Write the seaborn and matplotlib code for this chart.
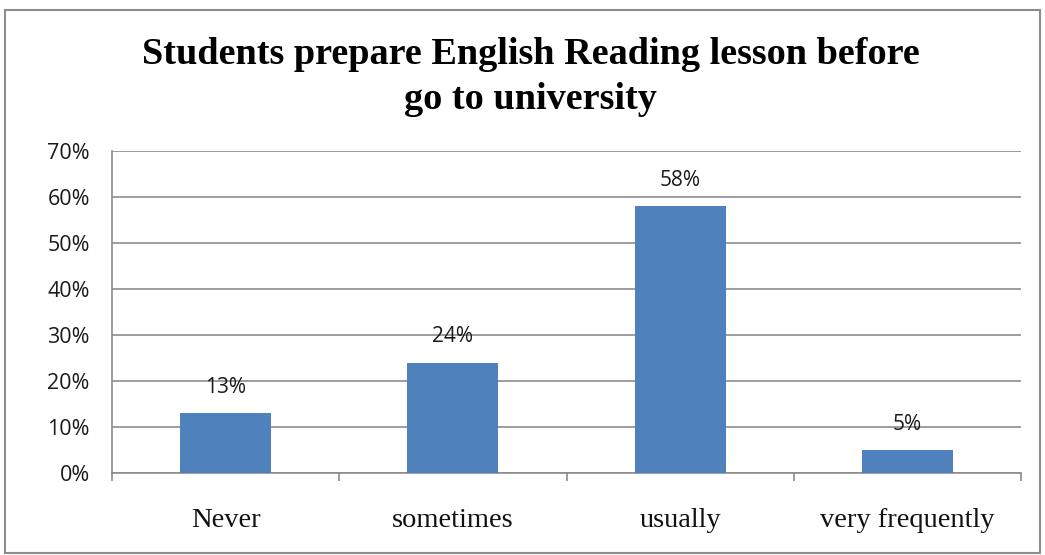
import matplotlib
matplotlib.use("Agg")
import matplotlib.pyplot as plt
from matplotlib.patches import Rectangle
from matplotlib.ticker import FixedLocator, FuncFormatter
import seaborn as sns
import pandas as pd

categories = ["Never", "sometimes", "usually", "very frequently"]
percentages = [13, 24, 58, 5]
y_ticks = [0, 10, 20, 30, 40, 50, 60, 70]

title = "Students prepare English Reading lesson before\ngo to university"

sns.set_theme(style="white")
plt.rcParams["font.family"] = ["Liberation Sans", "DejaVu Sans"]

bar_color = "#4F81BD"
grid_color = "#8C8C8C"

fig = plt.figure(figsize=(10.45, 5.55), dpi=100)
ax = fig.add_axes([112 / 1045, 1 - 473 / 555, (1021 - 112) / 1045, (473 - 151) / 555])

df = pd.DataFrame({"category": categories, "pct": percentages})
sns.barplot(data=df, x="category", y="pct", color=bar_color, width=0.4,
            saturation=1, linewidth=0, ax=ax, zorder=3)

ax.set_xlim(-0.5, len(categories) - 0.5)
ax.set_ylim(0, 70)
ax.set_xlabel("")
ax.set_ylabel("")

# horizontal gridlines
ax.yaxis.set_major_locator(FixedLocator(y_ticks))
ax.yaxis.set_major_formatter(FuncFormatter(lambda v, _: f"{v:.0f}%"))
ax.grid(axis="y", color=grid_color, linewidth=1.2, zorder=0)
ax.set_axisbelow(True)

for side in ("top", "right"):
    ax.spines[side].set_visible(False)
for side in ("left", "bottom"):
    ax.spines[side].set_color(grid_color)
    ax.spines[side].set_linewidth(1.2)

ax.tick_params(axis="y", which="major", length=7, width=1.2, color=grid_color,
               direction="out", pad=9, labelsize=15.5, labelcolor="#1a1a1a")
for lbl in ax.get_yticklabels():
    lbl.set_fontfamily(["Open Sans", "DejaVu Sans"])

# category labels centred, tick marks at category boundaries
ax.xaxis.set_minor_locator(FixedLocator([i - 0.5 for i in range(len(categories) + 1)]))
ax.tick_params(axis="x", which="major", length=0, pad=25, labelsize=20.5,
               labelcolor="#111111")
ax.tick_params(axis="x", which="minor", length=6, width=1.2, color=grid_color,
               direction="out", bottom=True)
for lbl in ax.get_xticklabels():
    lbl.set_fontfamily(["Liberation Serif", "DejaVu Serif"])

# value labels above each bar
for i, v in enumerate(percentages):
    ax.annotate(f"{v}%", xy=(i, v), xytext=(0, 11), textcoords="offset points",
                ha="center", va="bottom", fontsize=15, color="#1a1a1a",
                fontfamily=["Open Sans", "DejaVu Sans"])

fig.text(0.508, 1 - 77 / 555, title, ha="center", va="center", fontsize=27.5,
         fontweight="bold", fontfamily=["Liberation Serif", "DejaVu Serif"],
         linespacing=1.35, color="#000000")

# chart border
fig.patches.append(Rectangle((5 / 1045, 2 / 555), 1035 / 1045, 543 / 555,
                             transform=fig.transFigure, fill=False,
                             edgecolor="#8C8C8C", linewidth=1.5))

fig.savefig("out.png", dpi=100)
